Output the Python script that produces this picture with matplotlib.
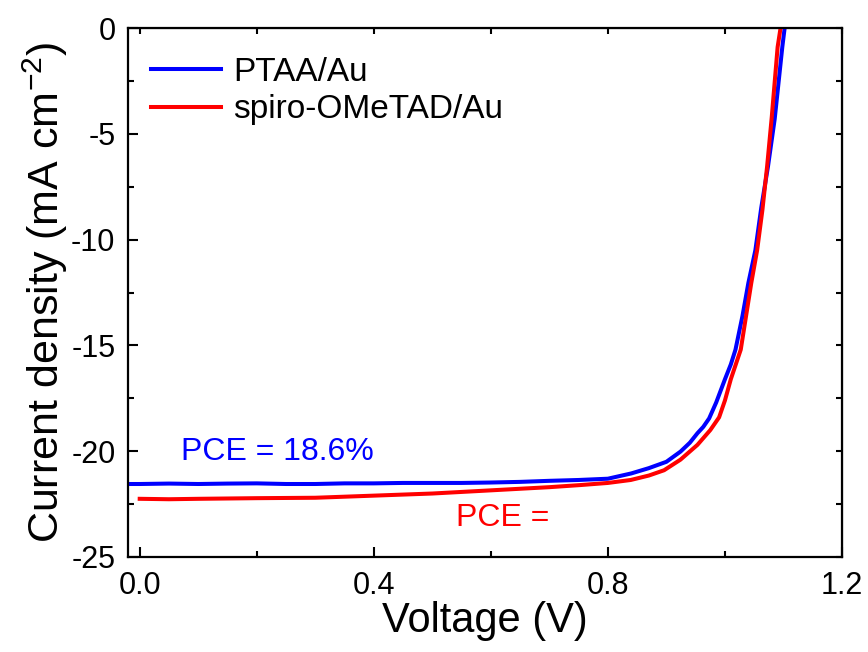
import matplotlib
matplotlib.use('Agg')
import matplotlib.pyplot as plt
from matplotlib.ticker import MultipleLocator

plt.rcParams['font.family'] = ['Liberation Sans', 'DejaVu Sans']
plt.rcParams['mathtext.fontset'] = 'custom'
plt.rcParams['mathtext.rm'] = 'Liberation Sans'
plt.rcParams['axes.unicode_minus'] = False

# PTAA/Au
v_ptaa = [-0.02, 0.0, 0.05, 0.1, 0.15, 0.2, 0.25, 0.3, 0.35, 0.4, 0.45, 0.5, 0.55, 0.6,
          0.65, 0.7, 0.75, 0.8, 0.84, 0.87, 0.9, 0.924, 0.94, 0.953, 0.963, 0.973, 0.985,
          1.0, 1.01, 1.018, 1.03, 1.04, 1.052, 1.062, 1.0735, 1.085, 1.098, 1.102]
j_ptaa = [-21.55, -21.55, -21.53, -21.55, -21.53, -21.52, -21.55, -21.55, -21.52, -21.52,
          -21.5, -21.5, -21.5, -21.48, -21.45, -21.4, -21.36, -21.3, -21.05, -20.8, -20.5,
          -20.02, -19.6, -19.15, -18.85, -18.45, -17.7, -16.6, -15.9, -15.2, -13.6, -12.05,
          -10.5, -8.5, -6.55, -4.3, -0.9, 0.0]

# spiro-OMeTAD/Au
v_spiro = [0.0, 0.05, 0.1, 0.2, 0.3, 0.4, 0.5, 0.6, 0.7, 0.753, 0.8, 0.839, 0.87, 0.896,
           0.924, 0.953, 0.975, 0.99, 1.0, 1.01, 1.027, 1.045, 1.055, 1.064, 1.072, 1.08,
           1.09, 1.095]
j_spiro = [-22.25, -22.27, -22.25, -22.22, -22.2, -22.1, -22.0, -21.85, -21.7, -21.6,
           -21.5, -21.36, -21.15, -20.9, -20.4, -19.7, -19.0, -18.4, -17.6, -16.6, -15.2,
           -12.05, -10.5, -8.6, -6.55, -4.2, -0.9, 0.0]

labels = ['PTAA/Au', 'spiro-OMeTAD/Au']
pce_text = ['PCE = 18.6%', 'PCE = ']

fig = plt.figure(figsize=(8.68, 6.52), dpi=100)
ax = fig.add_axes([128 / 868, 1 - 557 / 652, (842 - 128) / 868, (557 - 28) / 652])

ax.plot(v_ptaa, j_ptaa, color='#0000ff', lw=2.9, label=labels[0])
ax.plot(v_spiro, j_spiro, color='#ff0000', lw=2.9, label=labels[1])

ax.set_xlim(-0.02, 1.2)
ax.set_ylim(-25, 0)
ax.xaxis.set_major_locator(MultipleLocator(0.4))
ax.xaxis.set_minor_locator(MultipleLocator(0.2))
ax.yaxis.set_major_locator(MultipleLocator(5))
ax.yaxis.set_minor_locator(MultipleLocator(2.5))
ax.tick_params(which='major', direction='in', length=7.5, width=1.5, labelsize=22, pad=9)
ax.tick_params(which='minor', direction='in', length=4, width=1.5)
ax.tick_params(axis='x', pad=10)

for s in ax.spines.values():
    s.set_linewidth(1.6)

# top / right ticks without labels
top = ax.secondary_xaxis('top')
top.xaxis.set_major_locator(MultipleLocator(0.2))
top.tick_params(direction='in', length=4, width=1.5, labeltop=False)
right = ax.secondary_yaxis('right')
right.yaxis.set_major_locator(MultipleLocator(2.5))
right.tick_params(direction='in', length=4.5, width=1.5, labelright=False)

ax.set_xlabel('Voltage (V)', fontsize=30, labelpad=0)
ax.set_ylabel('Current density (mA cm$^{\\mathregular{-2}}$)', fontsize=31, labelpad=1)

ax.text(0.07, -20.05, pce_text[0], color='#0000ff', fontsize=23, va='center')
ax.text(0.541, -23.15, pce_text[1], color='#ff0000', fontsize=23, va='center')

ax.legend(loc='upper left', frameon=False, fontsize=24, handlelength=2.1,
          handletextpad=0.35, labelspacing=0.2, borderaxespad=0.3,
          bbox_to_anchor=(0.0, 0.99))

fig.savefig('out.png', dpi=100)
